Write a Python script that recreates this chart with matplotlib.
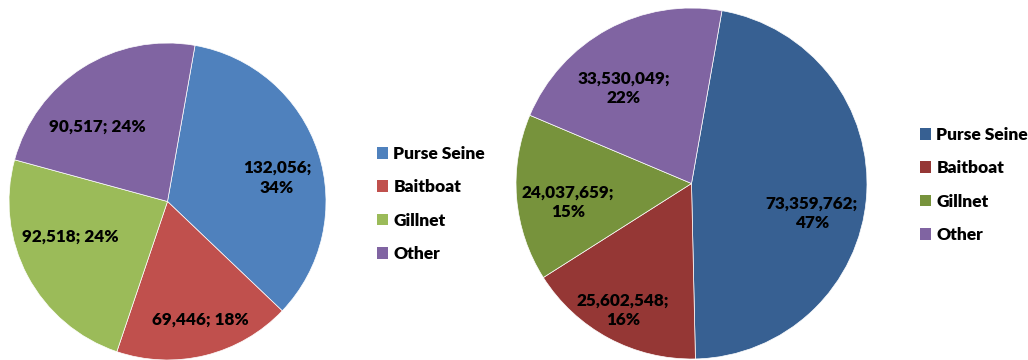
import numpy as np
import matplotlib
matplotlib.use("Agg")
import matplotlib.pyplot as plt
from matplotlib.patches import Patch

plt.rcParams['font.family'] = ['Lato', 'DejaVu Sans']
plt.rcParams['font.weight'] = 'bold'

gears = ["Purse Seine", "Baitboat", "Gillnet", "Other"]
catch_left = [132056, 69446, 92518, 90517]
pct_left = [34, 18, 24, 24]
catch_right = [73359762, 25602548, 24037659, 33530049]
pct_right = [47, 16, 15, 22]

colors_left = ["#4F81BD", "#C0504D", "#9BBB59", "#8064A2"]
colors_right = ["#376092", "#953735", "#77933C", "#8064A2"]

# label anchor points in pie units (x, y) and whether the label breaks after ';'
pos_left = [(0.69, 0.148), (0.205, -0.748), (-0.615, -0.224), (-0.445, 0.47)]
wrap_left = [True, False, False, False]
pos_right = [(0.685, -0.169), (-0.391, -0.722), (-0.705, -0.107), (-0.386, 0.543)]
wrap_right = [True, True, True, True]

W, H = 1028, 360
fig = plt.figure(figsize=(W / 100, H / 100), dpi=100)


def pie_panel(rect, values, pcts, colors, positions, wraps, legend_xy):
    ax = fig.add_axes(rect)
    ax.pie(values, colors=colors, startangle=80, counterclock=False,
           radius=1.0, wedgeprops=dict(edgecolor="white", linewidth=0.5))
    ax.set_xlim(-1, 1)
    ax.set_ylim(-1, 1)
    ax.set_aspect("equal")
    ax.axis("off")
    for v, p, (x, y), wrap in zip(values, pcts, positions, wraps):
        sep = "\n" if wrap else " "
        ax.text(x, y, f"{v:,};{sep}{p}%", ha="center", va="center",
                fontsize=12.3, fontweight="heavy", color="black",
                linespacing=1.3)
    handles = [Patch(facecolor=c, edgecolor="none") for c in colors]
    fig.legend(handles, gears, loc="center left", bbox_to_anchor=legend_xy,
               frameon=False, prop=dict(size=12.5, weight="heavy"),
               handlelength=0.65, handleheight=0.65, handletextpad=0.3,
               labelspacing=1.0, borderpad=0, borderaxespad=0)
    return ax


pie_panel([9 / W, 0 / H, 317 / W, 317 / H], catch_left, pct_left, colors_left,
          pos_left, wrap_left, (377 / W, (H - 204) / H))
pie_panel([516 / W, 1 / H, 351 / W, 351 / H], catch_right, pct_right,
          colors_right, pos_right, wrap_right, (920 / W, (H - 185) / H))

fig.savefig("out.png", dpi=100, facecolor="white")
